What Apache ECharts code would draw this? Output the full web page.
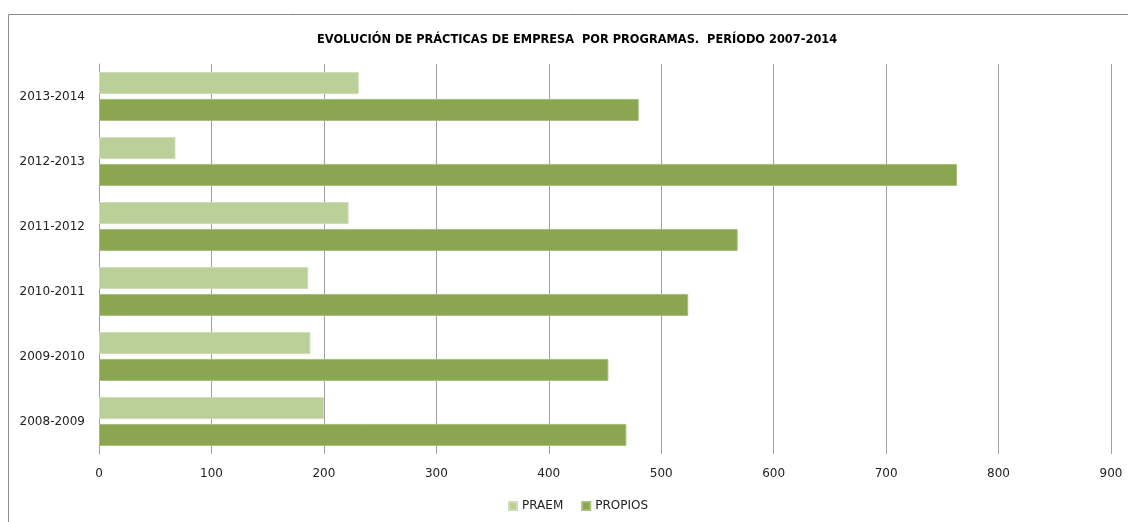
<!DOCTYPE html>
<html>
<head>
<meta charset="utf-8">
<script src="https://cdn.jsdelivr.net/npm/echarts@6/dist/echarts.min.js"></script>
<style>
html,body{margin:0;padding:0;background:#fff;}
#chart{width:1128px;height:522px;}
</style>
</head>
<body>
<div id="chart"></div>
<script>
const categories = ['2008-2009','2009-2010','2010-2011','2011-2012','2012-2013','2013-2014'];
const praem = [200, 188, 186, 222, 68, 231];
const propios = [469, 453, 524, 568, 763, 480];
const xTicks = [0, 100, 200, 300, 400, 500, 600, 700, 800, 900];
const titleText = 'EVOLUCIÓN DE PRÁCTICAS DE EMPRESA  POR PROGRAMAS.  PERÍODO 2007-2014';

const chart = echarts.init(document.getElementById('chart'));
const font = 'DejaVu Sans';
chart.setOption({
  animation: false,
  backgroundColor: '#fff',
  graphic: [{
    type: 'rect',
    shape: { x: 8.5, y: 14.5, width: 1200, height: 600 },
    style: { fill: 'none', stroke: '#8c8c8c', lineWidth: 1 },
    silent: true
  }],
  title: {
    text: titleText,
    left: 312,
    top: 30,
    textStyle: { fontFamily: font, fontSize: 11.4, fontWeight: 'bold', color: '#000' }
  },
  legend: {
    data: ['PRAEM', 'PROPIOS'],
    bottom: 5,
    left: 503,
    itemWidth: 8,
    itemHeight: 8,
    itemGap: 18,
    icon: 'rect',
    textStyle: { fontFamily: font, fontSize: 12, color: '#222' }
  },
  grid: { left: 99, right: 17, top: 64, bottom: 68, containLabel: false },
  xAxis: {
    type: 'value',
    min: 0,
    max: 900,
    interval: 100,
    axisLine: { show: false },
    axisTick: { show: false },
    splitLine: { show: true, lineStyle: { color: '#a0a0a0', width: 1 } },
    axisLabel: {
      margin: 14,
      fontFamily: font, fontSize: 12, color: '#222',
      formatter: v => xTicks.includes(v) ? String(v) : ''
    }
  },
  yAxis: {
    type: 'category',
    data: categories,
    axisLine: { show: true, lineStyle: { color: '#a0a0a0', width: 1 } },
    axisTick: { show: false },
    axisLabel: { margin: 14, fontFamily: font, fontSize: 12, color: '#222' }
  },
  series: [
    {
      name: 'PRAEM', type: 'bar', data: praem, barWidth: 22, barGap: '22%',
      itemStyle: { color: '#bbcf99', borderColor: '#cfddb8', borderWidth: 1 }
    },
    {
      name: 'PROPIOS', type: 'bar', data: propios, barWidth: 22, barGap: '22%',
      itemStyle: { color: '#8ba650', borderColor: '#a6bd7a', borderWidth: 1 }
    }
  ]
});
</script>
</body>
</html>
